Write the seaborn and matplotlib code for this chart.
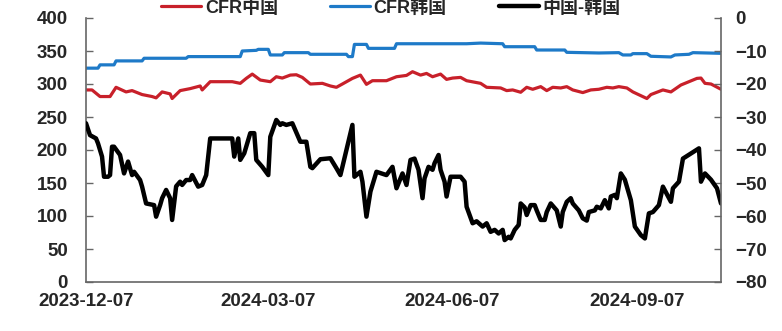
import pandas as pd
import matplotlib.pyplot as plt
import matplotlib.dates as mdates
import seaborn as sns

start = pd.Timestamp('2023-12-07')
series_names = ['CFR中国', 'CFR韩国', '中国-韩国']
date_ticks = ['2023-12-07', '2024-03-07', '2024-06-07', '2024-09-07']

# days since 2023-12-07
cn_days = [0, 3, 7, 12, 15, 20, 23, 28, 33, 35, 38, 42, 43, 47, 52, 57, 58, 62, 73, 77,
           80, 83, 87, 92, 95, 98, 102, 105, 108, 112, 118, 122, 125, 128, 133, 137, 140, 143, 150, 155,
           160, 163, 167, 170, 173, 177, 180, 183, 187, 190, 197, 200, 207, 210, 213, 217, 220, 223, 227, 230,
           233, 237, 240, 243, 248, 252, 256, 260, 263, 266, 270, 273, 280, 282, 288, 292, 297, 305, 307, 309,
           312, 317]
cn_price = [291, 291, 281, 281, 295, 288, 290, 284, 281, 279, 288, 285, 278, 290, 293, 297, 291, 303.5, 303.5, 301,
            308.5, 315, 306, 303.5, 311, 309, 313.5, 314, 310, 300, 301, 297, 295, 300, 308.5, 313.5, 299.5, 305, 305, 311,
            313, 318.6, 313.5, 316, 311, 315, 307, 309, 310, 305, 301, 295, 294, 290, 291, 287.5, 295, 292, 296, 290,
            295, 294, 296, 291, 287, 291, 292, 295, 294, 296, 294, 288, 278, 284, 291, 288, 298.5, 308.5, 309, 301,
            300, 292]

kr_days = [0, 6, 7, 14, 15, 28, 29, 50, 51, 77, 78, 85, 86, 91, 92, 98, 99, 111, 112, 130,
           131, 133, 134, 140, 141, 154, 155, 190, 197, 208, 209, 224, 225, 239, 240, 256, 266, 268, 272, 273,
           280, 282, 292, 294, 301, 303, 317]
kr_price = [324, 324, 329, 329, 335, 335, 339, 339, 341.5, 341.5, 350, 351, 352.5, 352.5, 344, 344, 347.5, 347.5, 345, 345,
            341.5, 341.5, 360, 360, 354, 354, 361, 361, 362, 361, 356.5, 356.5, 351.5, 351.5, 348, 347, 347.5, 344, 344, 346,
            346, 342, 341, 344, 345, 347.5, 346.5]

spread_days = [0, 2, 5, 6, 8, 9, 11, 12, 13, 14, 17, 19, 21, 23, 24, 27, 28, 30, 34, 35,
               37, 38, 40, 42, 43, 45, 47, 48, 50, 52, 53, 56, 58, 60, 62, 73, 74, 76, 77, 79,
               82, 84, 85, 88, 91, 92, 95, 97, 98, 100, 103, 107, 110, 112, 113, 117, 122, 125, 127, 128,
               133, 134, 137, 138, 140, 142, 145, 150, 153, 155, 157, 158, 160, 162, 164, 166, 168, 169, 171, 173,
               174, 176, 177, 179, 180, 182, 187, 189, 190, 193, 195, 198, 200, 202, 204, 206, 208, 209, 211, 212,
               214, 216, 217, 219, 220, 222, 224, 225, 227, 229, 230, 232, 235, 237, 238, 240, 242, 243, 246, 248,
               250, 251, 254, 255, 257, 259, 261, 262, 264, 265, 267, 269, 272, 274, 277, 279, 281, 283, 286, 288,
               292, 293, 296, 298, 306, 307, 309, 312, 315, 317]
spread = [-31.9, -35.5, -36.5, -38, -42, -48.1, -48.1, -47.6, -39, -39, -41.5, -47.1, -43.5, -47.6, -46.6, -49.1, -51.1, -56.2, -56.7, -60.2,
          -56.7, -54.6, -52.1, -54.6, -61.2, -51, -49.6, -50.6, -49.1, -49.1, -47.6, -51.1, -50.6, -47.6, -36.5, -36.5, -42, -36.5, -43, -41,
          -34.9, -34.9, -43, -45.1, -47.6, -36, -30.9, -32.4, -31.9, -32.4, -31.9, -37.5, -37.5, -45.1, -45.5, -42.8, -42.5, -45.5, -47.6, -45.1,
          -32.4, -48.1, -46.6, -49.6, -60.2, -52.6, -46.6, -47.6, -45.1, -51.6, -48.6, -47.1, -50.6, -43, -42.6, -46, -54.6, -48.6, -45.1, -46,
          -44, -41.5, -46, -49.6, -54.1, -48.1, -48.1, -49.6, -57.2, -62.2, -61.6, -63.2, -62.2, -64.8, -64.2, -65.3, -64.2, -67.3, -66.3, -66.8,
          -64.2, -62.7, -56.2, -57.4, -59.7, -56.7, -56.7, -58.3, -61.2, -61.2, -58.8, -56.2, -58.3, -63.2, -58.8, -55.7, -54.6, -56.2, -58.3, -60.7,
          -61.4, -58.8, -58.3, -57.2, -57.7, -55.2, -57.7, -54.1, -53.6, -54.6, -47.1, -49, -55.2, -63.2, -65.8, -66.8, -59.2, -58.8, -56.7, -51.1,
          -55.7, -51.6, -49.6, -42.6, -39.5, -49.6, -47.1, -49, -51.6, -56.2]

sns.set_style('white')
plt.rcParams['font.family'] = ['Liberation Sans', 'Noto Sans CJK SC']
plt.rcParams['font.weight'] = 'bold'
plt.rcParams['font.size'] = 13.5

def to_frame(days, values):
    return pd.DataFrame({'date': start + pd.to_timedelta(days, unit='D'), 'value': values})

cn = to_frame(cn_days, cn_price)
kr = to_frame(kr_days, kr_price)
sp = to_frame(spread_days, spread)

red, blue = '#C8202A', '#1E7AC8'
spine_c = '#666666'

fig = plt.figure(figsize=(7.82, 3.31), dpi=100)
ax = fig.add_axes([86 / 782, 1 - 282 / 331, 635 / 782, 264 / 331])
ax2 = ax.twinx()

sns.lineplot(data=cn, x='date', y='value', ax=ax, color=red, lw=2.3)
sns.lineplot(data=kr, x='date', y='value', ax=ax, color=blue, lw=2.3)
sns.lineplot(data=sp, x='date', y='value', ax=ax2, color='black', lw=3.2)

ax.set_ylim(0, 400)
ax.set_yticks(range(0, 401, 50))
ax2.set_ylim(-80, 0)
ax2.set_yticks(range(-80, 1, 10))
ax.set_xlim(start, start + pd.Timedelta(days=317))
ax.set_xticks(pd.to_datetime(date_ticks))
ax.xaxis.set_major_formatter(mdates.DateFormatter('%Y-%m-%d'))
for a in (ax, ax2):
    a.set_xlabel('')
    a.set_ylabel('')
    a.spines['top'].set_visible(False)
    for s in a.spines.values():
        s.set_color(spine_c)
        s.set_linewidth(1.2)
ax2.spines['left'].set_visible(False)
ax2.spines['bottom'].set_visible(False)
ax.spines['right'].set_visible(False)

ax.tick_params(axis='y', direction='in', length=5, width=1, color=spine_c, pad=13)
ax.tick_params(axis='x', direction='in', length=6, width=1, color=spine_c, pad=8)
ax2.tick_params(axis='y', direction='in', length=5, width=1, color=spine_c, pad=10)

handles = ax.get_lines()[:2] + ax2.get_lines()[:1]
fig.legend(handles, series_names, loc='center', bbox_to_anchor=(0.5, 1 - 8 / 331), ncol=3,
           frameon=False, fontsize=13, handlelength=2.2, handletextpad=0.2, columnspacing=2.9,
           borderaxespad=0, borderpad=0)

fig.savefig('out.png', dpi=100)
